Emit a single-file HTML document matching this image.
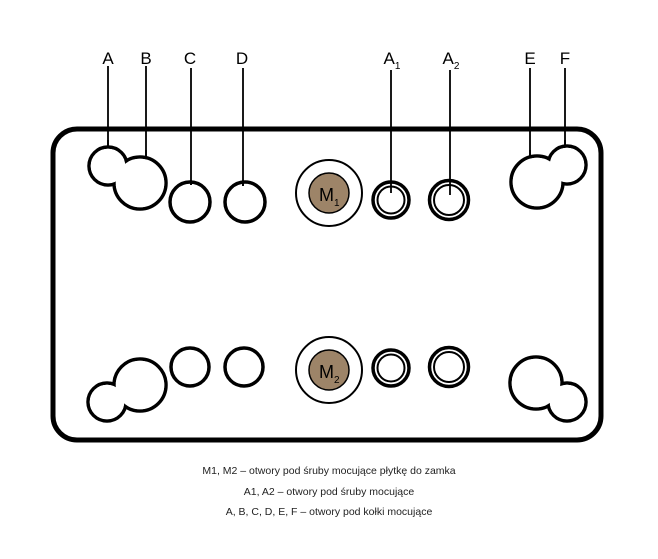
<!DOCTYPE html>
<html><head><meta charset="utf-8"><style>
body{margin:0;background:#fff;width:658px;height:559px;overflow:hidden}
svg{display:block}
</style></head><body>
<svg width="658" height="559" viewBox="0 0 658 559" xmlns="http://www.w3.org/2000/svg" font-family="Liberation Sans, sans-serif">
<rect x="53" y="129" width="548" height="311" rx="24" fill="#fff" stroke="#000" stroke-width="5"/>
<g stroke="#000" stroke-width="1.8">
<line x1="108" y1="66" x2="108" y2="147"/>
<line x1="146" y1="66" x2="146" y2="158"/>
<line x1="191" y1="68" x2="191" y2="185"/>
<line x1="243" y1="68" x2="243" y2="186"/>
<line x1="391" y1="70" x2="391" y2="193"/>
<line x1="450" y1="70" x2="450" y2="195"/>
<line x1="530" y1="68" x2="530" y2="157"/>
<line x1="565" y1="68" x2="565" y2="146"/>
</g>
<g font-size="17" text-anchor="middle" fill="#000">
<text x="108" y="64">A</text>
<text x="146" y="64">B</text>
<text x="190" y="64">C</text>
<text x="242" y="64">D</text>
<text x="392" y="64">A<tspan font-size="10" dy="5">1</tspan></text>
<text x="451" y="64">A<tspan font-size="10" dy="5">2</tspan></text>
<text x="530" y="64">E</text>
<text x="565" y="64">F</text>
</g>
<!-- composite shapes: stroke then white fill -->
<g stroke="#000" stroke-width="3.5" fill="none">
<circle cx="108" cy="166" r="19"/><circle cx="140" cy="183" r="26"/>
<circle cx="537" cy="182" r="26"/><circle cx="567" cy="165" r="19"/>
<circle cx="107" cy="402" r="19"/><circle cx="140" cy="385" r="26"/>
<circle cx="536" cy="383" r="26"/><circle cx="567" cy="402" r="19"/>
</g>
<g fill="#fff">
<circle cx="108" cy="166" r="17.3"/><circle cx="140" cy="183" r="24.3"/>
<circle cx="537" cy="182" r="24.3"/><circle cx="567" cy="165" r="17.3"/>
<circle cx="107" cy="402" r="17.3"/><circle cx="140" cy="385" r="24.3"/>
<circle cx="536" cy="383" r="24.3"/><circle cx="567" cy="402" r="17.3"/>
</g>
<g stroke="#000" stroke-width="1.8">
<line x1="108" y1="140" x2="108" y2="147"/>
<line x1="146" y1="150" x2="146" y2="158"/>
<line x1="530" y1="150" x2="530" y2="157"/>
<line x1="565" y1="140" x2="565" y2="146"/>
</g>
<g stroke="#000" stroke-width="3.5" fill="none">
<circle cx="190" cy="202" r="20"/><circle cx="245" cy="202" r="20"/>
<circle cx="190" cy="367" r="19"/><circle cx="244" cy="367" r="19"/>
</g>
<g stroke="#000" stroke-width="1.8">
<line x1="191" y1="180" x2="191" y2="185"/>
<line x1="243" y1="180" x2="243" y2="186"/>
</g>
<g stroke="#000" fill="none">
<circle cx="329" cy="193" r="33" stroke-width="2"/>
<circle cx="329" cy="370" r="33" stroke-width="2"/>
</g>
<circle cx="329" cy="193" r="20" fill="#9d8468" stroke="#000" stroke-width="1.5"/>
<circle cx="329" cy="370" r="20" fill="#9d8468" stroke="#000" stroke-width="1.5"/>
<text x="319" y="201" font-size="18">M<tspan font-size="10" dy="5">1</tspan></text>
<text x="319" y="378" font-size="18">M<tspan font-size="10" dy="5">2</tspan></text>
<g stroke="#000" fill="none">
<circle cx="391" cy="200" r="18" stroke-width="3.5"/><circle cx="391" cy="200" r="13.5" stroke-width="2"/>
<circle cx="449" cy="200" r="19.5" stroke-width="3.5"/><circle cx="449" cy="200" r="15" stroke-width="2"/>
<circle cx="391" cy="368" r="18" stroke-width="3.5"/><circle cx="391" cy="368" r="13.5" stroke-width="2"/>
<circle cx="449" cy="367" r="19.5" stroke-width="3.5"/><circle cx="449" cy="367" r="15" stroke-width="2"/>
</g>
<g font-size="10.5" text-anchor="middle" fill="#222">
<text x="329" y="474">M1, M2 – otwory pod śruby mocujące płytkę do zamka</text>
<text x="329" y="495">A1, A2 – otwory pod śruby mocujące</text>
<text x="329" y="515">A, B, C, D, E, F – otwory pod kołki mocujące</text>
</g>
</svg>
</body></html>
